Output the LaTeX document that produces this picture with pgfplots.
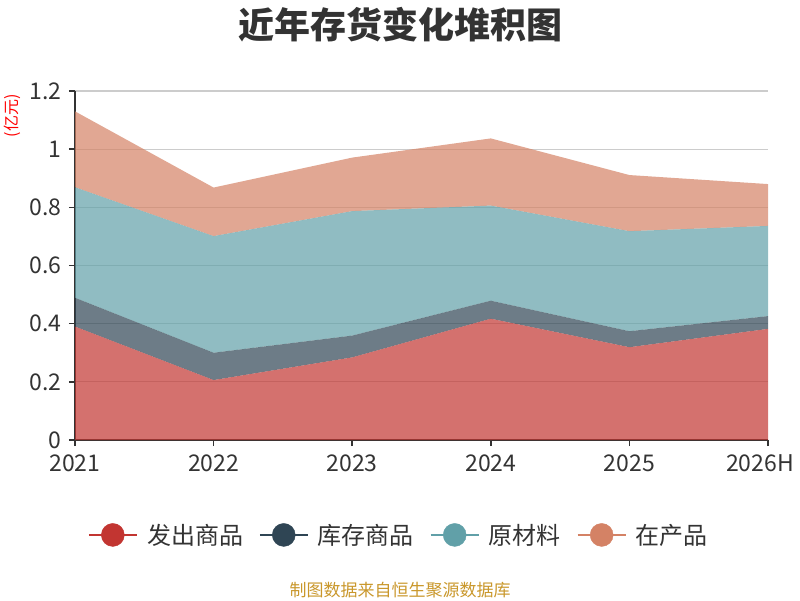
\documentclass[border=0pt]{standalone}
\usepackage{pgfplots}
\pgfplotsset{compat=1.18}
\usepackage{fontspec}
\setmainfont{Noto Sans CJK SC}
\definecolor{cA}{HTML}{C23531}
\definecolor{cB}{HTML}{2F4554}
\definecolor{cC}{HTML}{61A0A8}
\definecolor{cD}{HTML}{D48265}
\definecolor{ctxt}{HTML}{333333}
\definecolor{cgrid}{HTML}{CCCCCC}
\definecolor{cgold}{HTML}{C9972B}
\begin{document}
\begin{tikzpicture}[x=1pt,y=1pt]
\useasboundingbox (0,0) rectangle (800,600);
\node[font=\fontsize{36}{40}\selectfont\bfseries, text=ctxt] at (400,575) {近年存货变化堆积图};
\node[rotate=90, text=red, font=\fontsize{16}{17}\selectfont] at (12,484) {(亿元)};
\node[text=cgold, font=\fontsize{17}{18}\selectfont] at (400,10) {制图数据来自恒生聚源数据库};
\begin{axis}[
  at={(75pt,160pt)}, anchor=south west,
  scale only axis, width=693pt, height=349pt,
  xmin=0, xmax=5, ymin=0, ymax=1.2,
  stack plots=y,
  axis x line*=bottom, axis y line*=left,
  axis line style={ctxt, line width=1.5pt},
  tick align=outside, major tick length=6pt,
  tick style={ctxt, line width=1.5pt},
  xtick={0,1,2,3,4,5}, xticklabels={2021,2022,2023,2024,2025,{2026H\kern16pt}},
  ytick={0,0.2,0.4,0.6,0.8,1,1.2}, yticklabels={0,0.2,0.4,0.6,0.8,1,1.2},
  ymajorgrids, grid style={cgrid, line width=1.1pt},
  ticklabel style={font=\fontsize{23}{24}\selectfont, text=ctxt},
  xticklabel style={yshift=-5pt},
  yticklabel style={xshift=-4pt},
  legend columns=4,
  legend style={at={(0.4675,-0.272)}, anchor=center, draw=none, fill=none,
    font=\fontsize{24}{26}\selectfont, text=ctxt,
    /tikz/every even column/.append style={column sep=14pt}},
]
\addplot[fill=cA, fill opacity=0.7, draw=none, forget plot] coordinates {(0,0.390)(1,0.206)(2,0.284)(3,0.417)(4,0.319)(5,0.382)} \closedcycle;
\addplot[fill=cB, fill opacity=0.7, draw=none, forget plot] coordinates {(0,0.099)(1,0.094)(2,0.075)(3,0.062)(4,0.055)(5,0.044)} \closedcycle;
\addplot[fill=cC, fill opacity=0.7, draw=none, forget plot] coordinates {(0,0.380)(1,0.401)(2,0.428)(3,0.327)(4,0.344)(5,0.310)} \closedcycle;
\addplot[fill=cD, fill opacity=0.7, draw=none, forget plot] coordinates {(0,0.261)(1,0.167)(2,0.184)(3,0.231)(4,0.193)(5,0.144)} \closedcycle;
\draw[ctxt, line width=1.5pt] (axis cs:0,0) -- (axis cs:5,0);
\addlegendimage{legend image code/.code={\draw[cA, line width=1.5pt] (0pt,0pt) -- (48pt,0pt); \fill[cA] (24pt,0pt) circle (11.5pt); \path (56pt,0pt);}}
\addlegendentry{发出商品}
\addlegendimage{legend image code/.code={\draw[cB, line width=1.5pt] (0pt,0pt) -- (48pt,0pt); \fill[cB] (24pt,0pt) circle (11.5pt); \path (56pt,0pt);}}
\addlegendentry{库存商品}
\addlegendimage{legend image code/.code={\draw[cC, line width=1.5pt] (0pt,0pt) -- (48pt,0pt); \fill[cC] (24pt,0pt) circle (11.5pt); \path (56pt,0pt);}}
\addlegendentry{原材料}
\addlegendimage{legend image code/.code={\draw[cD, line width=1.5pt] (0pt,0pt) -- (48pt,0pt); \fill[cD] (24pt,0pt) circle (11.5pt); \path (56pt,0pt);}}
\addlegendentry{在产品}
\end{axis}
\end{tikzpicture}
\end{document}
